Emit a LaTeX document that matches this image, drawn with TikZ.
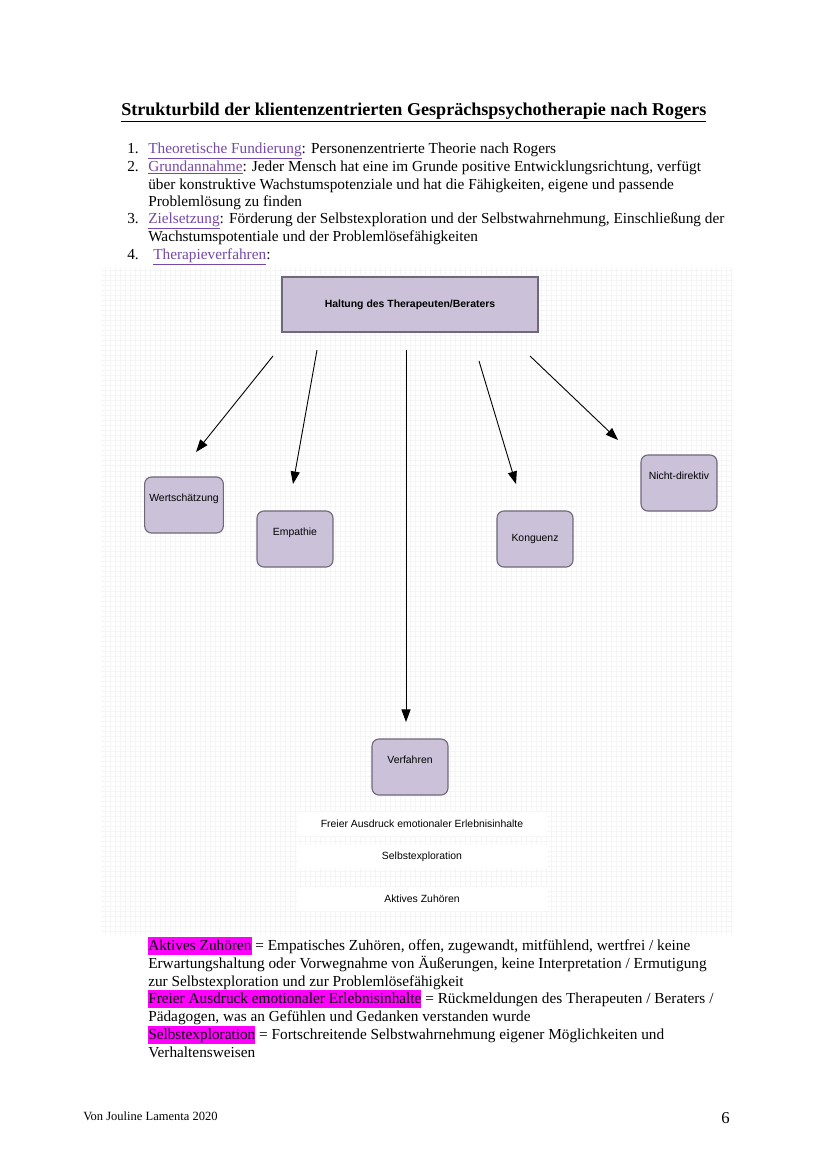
\documentclass[tikz,border=0pt]{standalone}
\usepackage{fontspec}
\setmainfont{Liberation Serif}
\newfontfamily\boxfont{Liberation Sans}
\usetikzlibrary{positioning,arrows.meta}
\definecolor{boxfill}{RGB}{203,194,217}
\definecolor{boxline}{RGB}{111,104,120}
\definecolor{linkpurple}{RGB}{118,72,168}
\definecolor{markmagenta}{RGB}{255,0,255}
\newcommand\linkword[1]{\textcolor{linkpurple}{\underline{#1}}}
\newcommand\markword[1]{{\setlength\fboxsep{0pt}\colorbox{markmagenta}{\strut #1}}}

\begin{document}
\begin{tikzpicture}[x=0.71894pt, y=-0.71894pt,
haltungnode/.style={rectangle, draw=boxline, fill=boxfill, line width=0.8pt, minimum width=184pt, minimum height=39.5pt, font=\boxfont\bfseries\fontsize{7.5}{9}\selectfont},
roundnode/.style={rectangle, rounded corners=5pt, draw=boxline, fill=boxfill, line width=0.8pt, minimum width=54.6pt, minimum height=40.3pt, font=\boxfont\fontsize{7.5}{9}\selectfont},
obentext/.style={text height=6pt, text depth=10.5pt},
weissnode/.style={rectangle, fill=white, minimum width=180pt, minimum height=17pt, font=\boxfont\fontsize{7.5}{9}\selectfont},
zeile/.style={anchor=base west, inner sep=0pt, font=\fontsize{11}{13}\selectfont},
pfeil/.style={line width=0.65pt, -{Triangle[length=9pt,width=6.5pt]}},
]
\useasboundingbox (0,0) rectangle (828,1171);
\fill[white] (0,0) rectangle (828,1171);

%Text above
\node[anchor=base west, inner sep=0pt, font=\bfseries\fontsize{13}{15}\selectfont] (titel) at (121,115) {\underline{Strukturbild der klientenzentrierten Gesprächspsychotherapie nach Rogers}};

\node[zeile] (nr1) at (127,153) {1.};
\node[zeile] (z1) at (148,153) {\linkword{Theoretische Fundierung}: Personenzentrierte Theorie nach Rogers};
\node[zeile] (nr2) at (127,171) {2.};
\node[zeile] (z2) at (148,171) {\linkword{Grundannahme}: Jeder Mensch hat eine im Grunde positive Entwicklungsrichtung, verfügt};
\node[zeile] (z3) at (148,189) {über konstruktive Wachstumspotenziale und hat die Fähigkeiten, eigene und passende};
\node[zeile] (z4) at (148,206) {Problemlösung zu finden};
\node[zeile] (nr3) at (127,223) {3.};
\node[zeile] (z5) at (148,223) {\linkword{Zielsetzung}: Förderung der Selbstexploration und der Selbstwahrnehmung, Einschließung der};
\node[zeile] (z6) at (148,241) {Wachstumspotentiale und der Problemlösefähigkeiten};
\node[zeile] (nr4) at (127,259) {4.};
\node[zeile] (z7) at (153,259) {\linkword{Therapieverfahren}:};

%Grid
\draw[gray!8, line width=0.3pt, step=3.6pt] (101,267) grid (733,935);

%Nodes
\node[haltungnode] (haltung) at (410,304.5) {Haltung des Therapeuten/Beraters};
\node[roundnode, obentext] (wert) at (184,505) {Wertschätzung};
\node[roundnode, obentext] (empathie) at (295,539) {Empathie};
\node[roundnode] (kongruenz) at (535,539) {Konguenz};
\node[roundnode, obentext] (nichtdir) at (679,483) {Nicht-direktiv};
\node[roundnode, obentext] (verfahren) at (410,767) {Verfahren};

\node[weissnode] (freier) at (422,824) {Freier Ausdruck emotionaler Erlebnisinhalte};
\node[weissnode] (selbst) at (422,857) {Selbstexploration};
\node[weissnode] (aktiv) at (422,899) {Aktives Zuhören};

%Arrow ends
\coordinate (startW) at (273,356);
\coordinate (endW) at (196,452);
\coordinate (startE) at (317,350);
\coordinate (endE) at (293,484);
\coordinate (startV) at (406,350);
\coordinate (endV) at (406,722);
\coordinate (startK) at (479,361);
\coordinate (endK) at (516,484);
\coordinate (startN) at (530,356);
\coordinate (endN) at (618,440);

%Lines
\draw[pfeil] (startW) -- (endW);
\draw[pfeil] (startE) -- (endE);
\draw[pfeil] (startV) -- (endV);
\draw[pfeil] (startK) -- (endK);
\draw[pfeil] (startN) -- (endN);

%Text below
\node[zeile] (b1) at (148,950) {\markword{Aktives Zuhören} = Empatisches Zuhören, offen, zugewandt, mitfühlend, wertfrei / keine};
\node[zeile] (b2) at (148,968) {Erwartungshaltung oder Vorwegnahme von Äußerungen, keine Interpretation / Ermutigung};
\node[zeile] (b3) at (148,986) {zur Selbstexploration und zur Problemlösefähigkeit};
\node[zeile] (b4) at (148,1003) {\markword{Freier Ausdruck emotionaler Erlebnisinhalte} = Rückmeldungen des Therapeuten / Beraters /};
\node[zeile] (b5) at (148,1021) {Pädagogen, was an Gefühlen und Gedanken verstanden wurde};
\node[zeile] (b6) at (148,1039) {\markword{Selbstexploration} = Fortschreitende Selbstwahrnehmung eigener Möglichkeiten und};
\node[zeile] (b7) at (148,1057) {Verhaltensweisen};

%Footer
\node[anchor=base west, inner sep=0pt, font=\fontsize{9}{11}\selectfont] (autor) at (83,1120) {Von Jouline Lamenta 2020};
\node[anchor=base east, inner sep=0pt, font=\fontsize{12}{14}\selectfont] (seite) at (730,1123) {6};
\end{tikzpicture}
\end{document}
